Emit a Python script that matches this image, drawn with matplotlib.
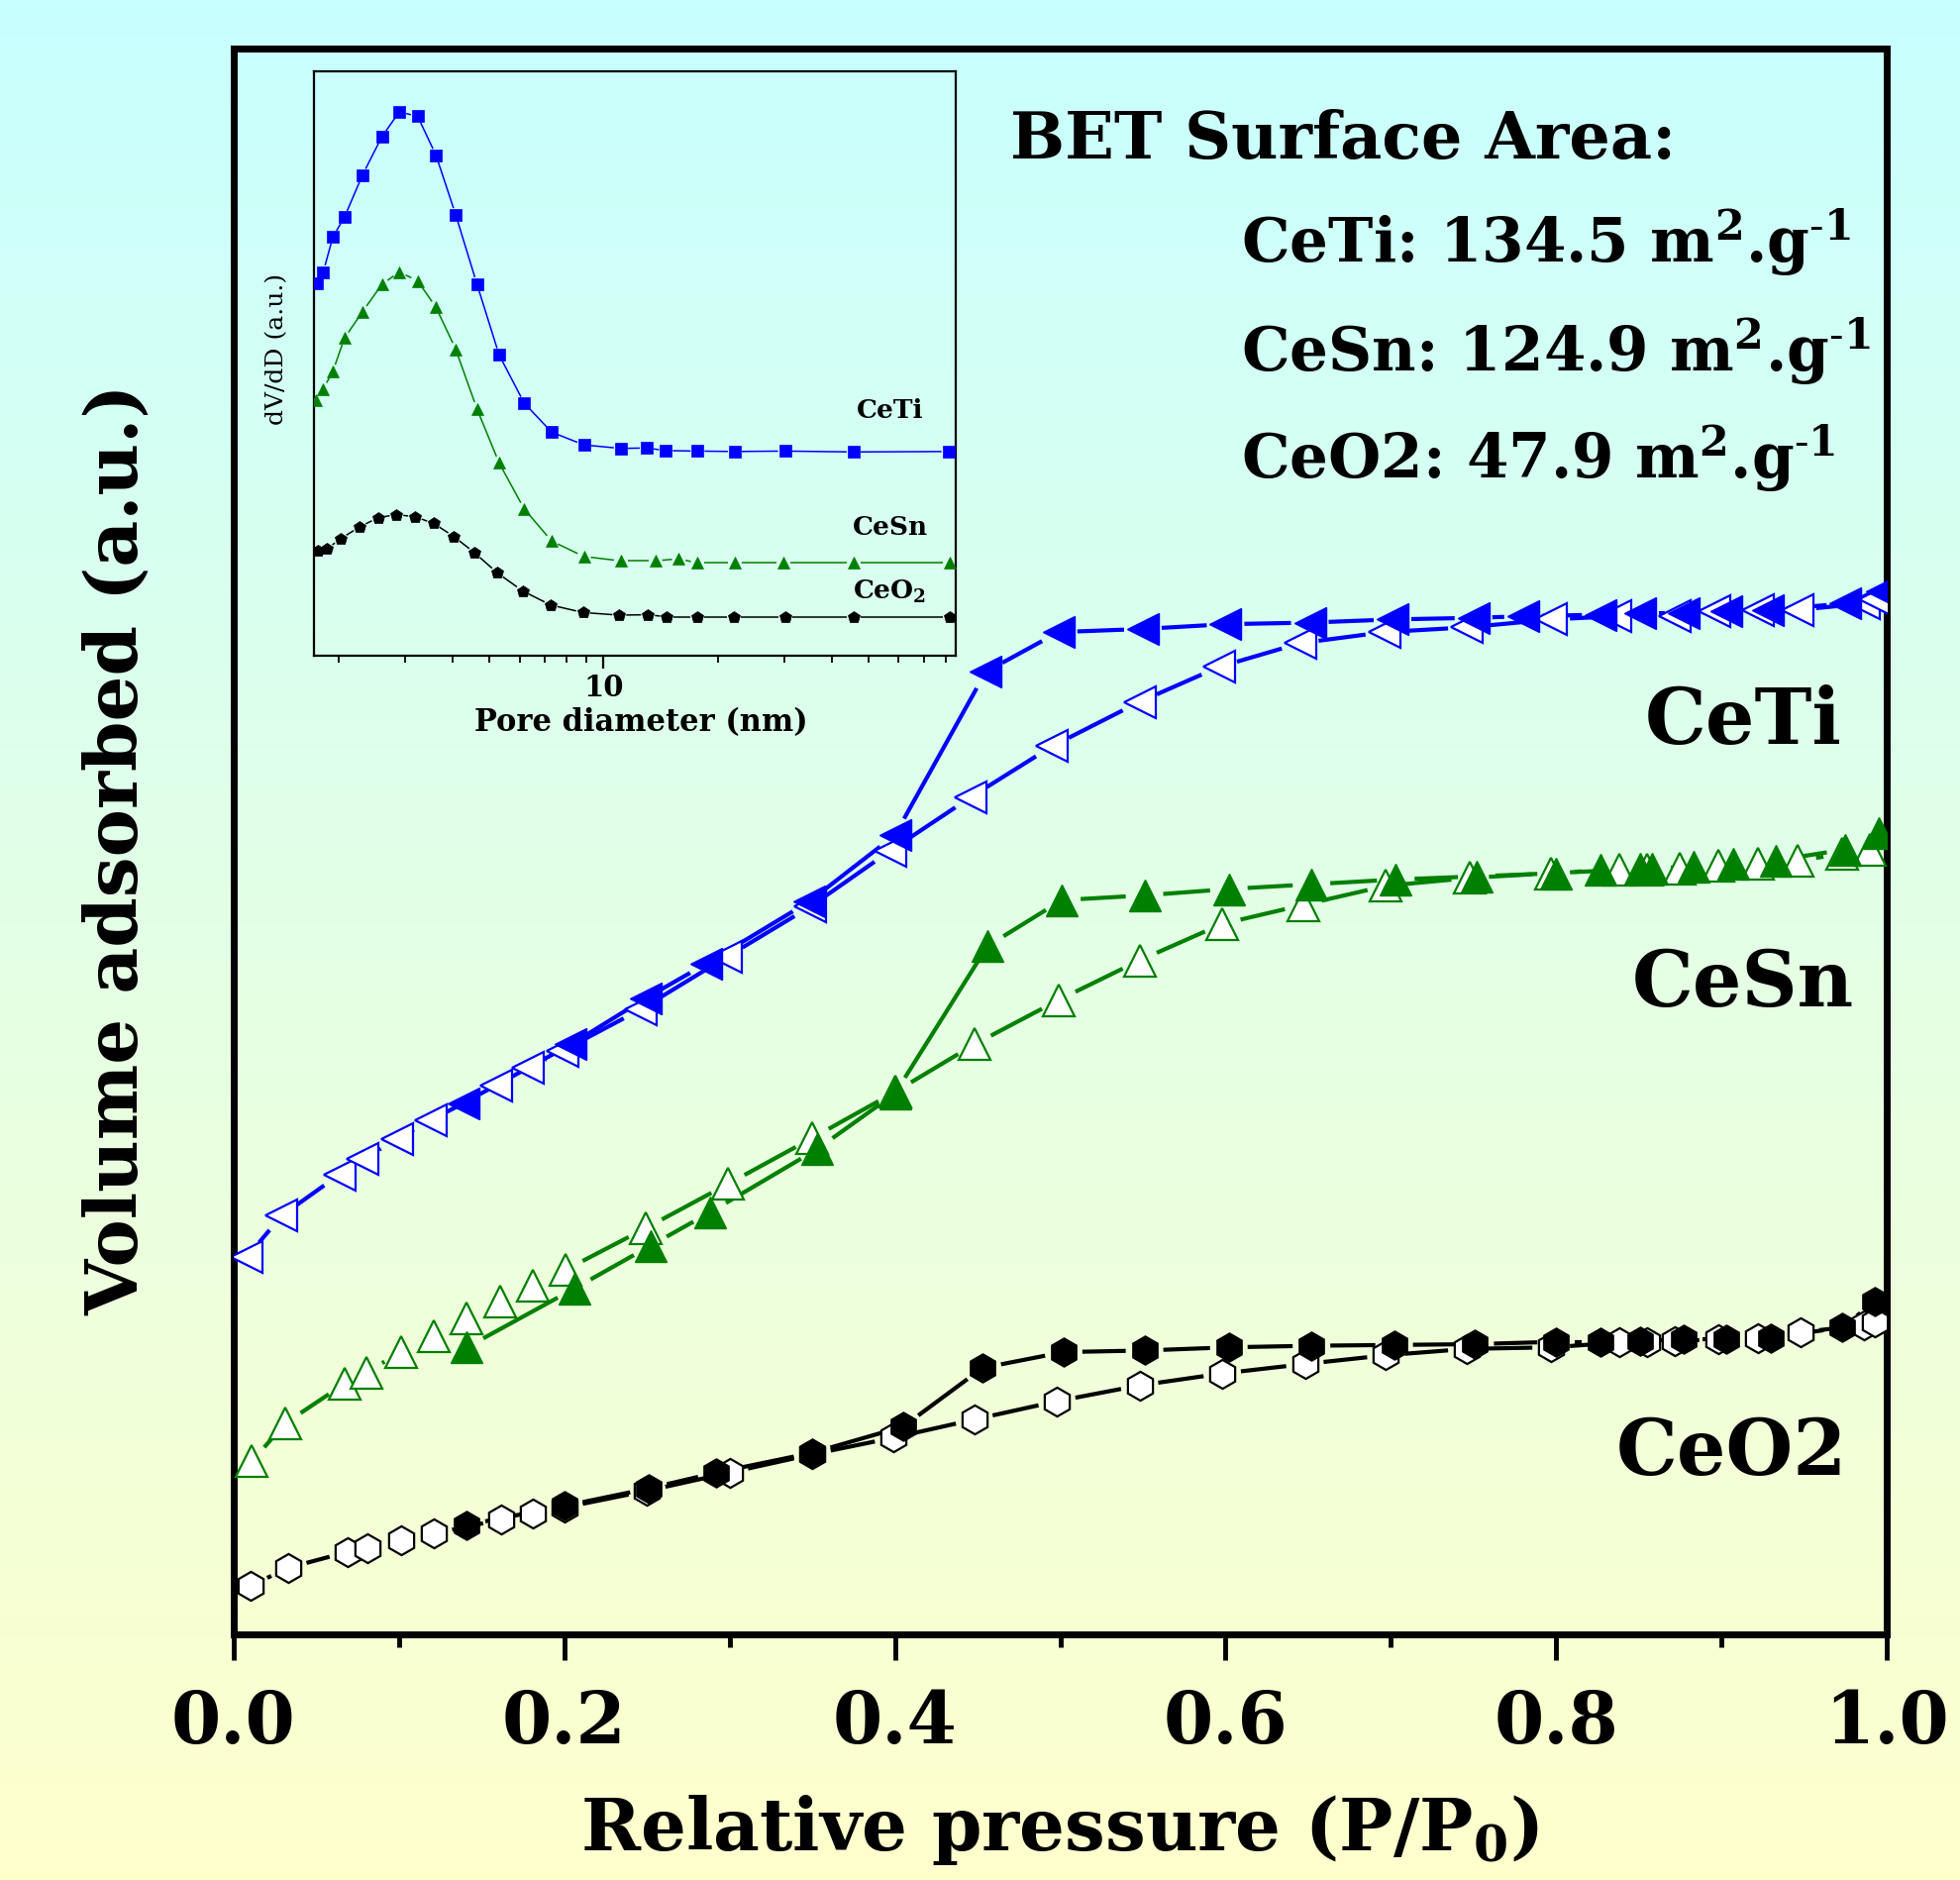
import numpy as np
import matplotlib
matplotlib.use("Agg")
import matplotlib.pyplot as plt
from matplotlib.collections import LineCollection
from matplotlib.colors import LinearSegmentedColormap
from matplotlib.ticker import MultipleLocator, NullFormatter

plt.rcParams["font.family"] = "DejaVu Serif"
plt.rcParams["mathtext.fontset"] = "dejavuserif"

# ---------------- main isotherms (relative pressure, volume a.u.) ----------------
p_ti_ads = [0.008, 0.029, 0.064, 0.078, 0.099, 0.119, 0.159, 0.178, 0.199, 0.246, 0.298,
            0.349, 0.397, 0.446, 0.495, 0.548, 0.596, 0.645, 0.696, 0.746, 0.797, 0.836,
            0.872, 0.896, 0.922, 0.946, 0.986, 0.993]
v_ti_ads = [23.8, 26.4, 29.0, 30.0, 31.2, 32.4, 34.6, 35.7, 36.8, 39.4, 42.7,
            45.9, 49.4, 52.8, 56.0, 58.8, 61.0, 62.5, 63.2, 63.5, 64.0, 64.2,
            64.2, 64.5, 64.6, 64.6, 65.0, 65.3]
p_ti_des = [0.997, 0.975, 0.928, 0.903, 0.877, 0.851, 0.827, 0.780, 0.750, 0.701, 0.651,
            0.600, 0.550, 0.499, 0.455, 0.400, 0.348, 0.286, 0.249, 0.204, 0.139]
v_ti_des = [65.8, 65.0, 64.6, 64.5, 64.4, 64.4, 64.3, 64.2, 64.1, 64.0, 63.8,
            63.7, 63.4, 63.2, 60.7, 50.4, 46.2, 42.3, 40.1, 37.2, 33.5]

p_sn_ads = [0.011, 0.031, 0.067, 0.080, 0.101, 0.121, 0.141, 0.161, 0.181, 0.201, 0.249,
            0.299, 0.350, 0.400, 0.448, 0.499, 0.548, 0.598, 0.647, 0.697, 0.748, 0.797,
            0.838, 0.855, 0.875, 0.898, 0.922, 0.946, 0.973, 0.990]
v_sn_ads = [10.9, 13.3, 15.8, 16.5, 17.8, 18.8, 19.9, 21.0, 22.0, 23.0, 25.6,
            28.4, 31.3, 34.2, 37.2, 40.0, 42.5, 44.8, 46.0, 47.2, 47.7, 48.0,
            48.2, 48.2, 48.3, 48.5, 48.6, 48.8, 49.2, 49.5]
p_sn_des = [0.995, 0.975, 0.933, 0.907, 0.883, 0.858, 0.851, 0.827, 0.800, 0.752, 0.703,
            0.652, 0.602, 0.551, 0.501, 0.456, 0.400, 0.353, 0.288, 0.252, 0.206, 0.141]
v_sn_des = [50.5, 49.5, 48.8, 48.6, 48.4, 48.3, 48.3, 48.2, 48.0, 47.8, 47.6,
            47.3, 47.0, 46.6, 46.3, 43.4, 34.1, 30.6, 26.6, 24.5, 21.8, 18.1]

p_ce_ads = [0.010, 0.033, 0.069, 0.081, 0.101, 0.121, 0.162, 0.181, 0.200, 0.250, 0.300,
            0.350, 0.399, 0.448, 0.498, 0.548, 0.598, 0.648, 0.697, 0.746, 0.797, 0.838,
            0.855, 0.872, 0.898, 0.922, 0.948, 0.986, 0.993]
v_ce_ads = [3.05, 4.2, 5.2, 5.45, 5.95, 6.35, 7.25, 7.65, 8.0, 9.05, 10.2,
            11.35, 12.4, 13.55, 14.7, 15.7, 16.45, 17.05, 17.6, 18.0, 18.1, 18.4,
            18.45, 18.5, 18.6, 18.7, 19.05, 19.5, 19.7]
p_ce_des = [0.993, 0.973, 0.930, 0.903, 0.877, 0.851, 0.827, 0.800, 0.751, 0.702, 0.652,
            0.602, 0.551, 0.502, 0.453, 0.405, 0.350, 0.292, 0.251, 0.200, 0.141]
v_ce_des = [21.0, 19.35, 18.7, 18.6, 18.6, 18.5, 18.45, 18.45, 18.3, 18.25, 18.2,
            18.1, 17.9, 17.8, 16.8, 13.1, 11.45, 10.2, 9.2, 8.1, 6.9]

xtick_vals = [0.0, 0.2, 0.4, 0.6, 0.8, 1.0]
xtick_labels = ["0.0", "0.2", "0.4", "0.6", "0.8", "1.0"]

# ---------------- inset: pore size distribution (nm, dV/dD a.u.) ----------------
d_ti = [1.75, 1.82, 1.93, 2.07, 2.31, 2.60, 2.89, 3.23, 3.61, 4.07, 4.63, 5.30,
        6.17, 7.29, 8.87, 11.1, 13.0, 14.6, 17.7, 22.2, 30.1, 45.7, 81.3]
psd_ti = [84.5, 87.0, 95.0, 99.4, 109.0, 117.7, 123.3, 122.3, 113.5, 100.0, 84.3, 68.2,
          57.3, 50.7, 47.8, 47.0, 47.1, 46.5, 46.4, 46.3, 46.4, 46.2, 46.3]
d_sn = [1.74, 1.82, 1.93, 2.07, 2.31, 2.60, 2.89, 3.23, 3.61, 4.07, 4.63, 5.30,
        6.17, 7.29, 8.87, 11.1, 13.7, 15.8, 17.7, 22.2, 29.9, 45.7, 82.0]
psd_sn = [58.0, 60.5, 64.5, 72.0, 78.0, 84.2, 87.0, 85.0, 79.0, 69.5, 56.0, 43.7,
          33.3, 26.0, 22.5, 21.5, 21.5, 22.0, 21.0, 21.0, 21.0, 21.0, 21.0]
d_ce = [1.765, 1.86, 2.02, 2.27, 2.54, 2.84, 3.18, 3.56, 4.03, 4.57, 5.24, 6.11,
        7.25, 8.82, 11.0, 13.1, 14.7, 17.7, 22.1, 30.1, 45.7, 82.0]
psd_ce = [23.7, 24.2, 26.5, 29.2, 31.3, 32.0, 31.5, 30.0, 27.0, 23.3, 18.8, 14.7,
          11.5, 9.8, 9.2, 9.3, 8.8, 8.8, 8.8, 8.8, 8.8, 8.8]

BLUE, GREEN, BLACK = "#0000ff", "#008000", "#000000"
W, H = 1979, 1898


def gapped(ax, x, y, gap, **kw):
    """Origin-style line: segments stop `gap` pixels short of each symbol."""
    pts = ax.transData.transform(np.column_stack([x, y]))
    segs = []
    for a, b in zip(pts[:-1], pts[1:]):
        d = b - a
        L = np.hypot(*d)
        if L <= 2 * gap:
            continue
        u = d / L
        segs.append([a + u * gap, b - u * gap])
    if not segs:
        return
    inv = ax.transData.inverted()
    segs = [inv.transform(np.array(s)) for s in segs]
    ax.add_collection(LineCollection(segs, capstyle="butt", **kw))


fig = plt.figure(figsize=(W / 100, H / 100), dpi=100)

# gradient background
bg = fig.add_axes([0, 0, 1, 1], zorder=-10)
cmap = LinearSegmentedColormap.from_list("bg", ["#c8ffff", "#ffffcc"])
bg.imshow(np.linspace(0, 1, 256).reshape(-1, 1), aspect="auto", cmap=cmap,
          extent=[0, 1, 0, 1], origin="upper")
bg.axis("off")

# ---- main axes ----
ax = fig.add_axes([236 / W, 1 - 1650 / H, (1905 - 236) / W, (1650 - 49) / H])
ax.set_facecolor("none")
ax.set_xlim(0, 1)
ax.set_ylim(0, 100)

series = [
    (p_ce_ads, v_ce_ads, p_ce_des, v_ce_des, BLACK, "h", 21),
    (p_sn_ads, v_sn_ads, p_sn_des, v_sn_des, GREEN, "^", 23),
    (p_ti_ads, v_ti_ads, p_ti_des, v_ti_des, BLUE, "<", 23),
]
for pa, va, pd, vd, c, m, ms in series:
    gapped(ax, pa, va, 19, color=c, lw=3.0, zorder=2)
    gapped(ax, pd, vd, 19, color=c, lw=3.0, zorder=2)
    ax.plot(pa, va, ls="none", marker=m, ms=ms, mfc="white", mec=c, mew=1.6, zorder=3)
    ax.plot(pd, vd, ls="none", marker=m, ms=ms, mfc=c, mec=c, mew=1.0, zorder=4)

ax.set_xticks(xtick_vals)
ax.set_xticklabels(xtick_labels)
ax.xaxis.set_minor_locator(MultipleLocator(0.1))
ax.set_yticks([])
ax.tick_params(axis="x", which="major", direction="out", length=19, width=3.5,
               labelsize=52, pad=20)
ax.tick_params(axis="x", which="minor", direction="out", length=9.5, width=3.5)
for lab in ax.get_xticklabels():
    lab.set_fontweight("bold")
for s in ax.spines.values():
    s.set_linewidth(5)

fig.text(1070 / W, 1 - 1868 / H, r"Relative pressure (P/P$_\mathbf{0}$)",
         ha="center", va="baseline", fontsize=52, fontweight="bold")
fig.text(118 / W, 1 - 858 / H, "Volume adsorbed (a.u.)", rotation=90,
         ha="center", va="center", fontsize=52, fontweight="bold")

# BET block
fig.text(1020 / W, 1 - 160 / H, "BET Surface Area:", fontsize=47, fontweight="bold",
         va="baseline")
unit = r" m$^{\mathbf{2}}$.g$^{\text{-}\mathbf{1}}$"
bet_lines = [("CeTi: 134.5" + unit, 265),
             ("CeSn: 124.9" + unit, 375),
             ("CeO2: 47.9" + unit, 483)]
for txt, yb in bet_lines:
    fig.text(1253 / W, 1 - yb / H, txt, fontsize=44, fontweight="bold", va="baseline")

# big sample labels
for txt, xc, yb in [("CeTi", 1760, 751), ("CeSn", 1760, 1016), ("CeO2", 1748, 1489)]:
    fig.text(xc / W, 1 - yb / H, txt, fontsize=56, fontweight="bold",
             ha="center", va="baseline")

# ---- inset ----
axi = fig.add_axes([317 / W, 1 - 662 / H, (965 - 317) / W, (662 - 72) / H])
axi.set_facecolor("none")
axi.set_xscale("log")
axi.set_xlim(1.72, 85)
axi.set_ylim(0, 132.5)
for d, v, c, m in [(d_ti, psd_ti, BLUE, "s"), (d_sn, psd_sn, GREEN, "^"),
                   (d_ce, psd_ce, BLACK, "p")]:
    gapped(axi, d, v, 7, color=c, lw=1.1, zorder=2)
    axi.plot(d, v, ls="none", marker=m, ms=9, mfc=c, mec=c, mew=0.5, zorder=3)
axi.set_yticks([])
axi.set_xticks([10])
axi.set_xticklabels(["10"])
axi.xaxis.set_minor_formatter(NullFormatter())
axi.tick_params(which="major", direction="out", length=9, width=1.6, labelsize=21, pad=4)
axi.tick_params(which="minor", direction="out", length=5, width=1.3)
for lab in axi.get_xticklabels():
    lab.set_fontweight("bold")
for s in axi.spines.values():
    s.set_linewidth(1.6)

axi.text(57, 55.5, "CeTi", fontsize=19, fontweight="bold", ha="center", va="center")
axi.text(57, 29, "CeSn", fontsize=19, fontweight="bold", ha="center", va="center")
axi.text(57, 14.5, r"CeO$_\mathbf{2}$", fontsize=19, fontweight="bold", ha="center",
         va="center")
fig.text(647 / W, 1 - 730 / H, "Pore diameter (nm)", fontsize=22, fontweight="bold",
         ha="center", va="center")
fig.text(280 / W, 1 - 352 / H, "dV/dD (a.u.)", fontsize=18, rotation=90,
         ha="center", va="center")

fig.savefig("out.png", dpi=100)
